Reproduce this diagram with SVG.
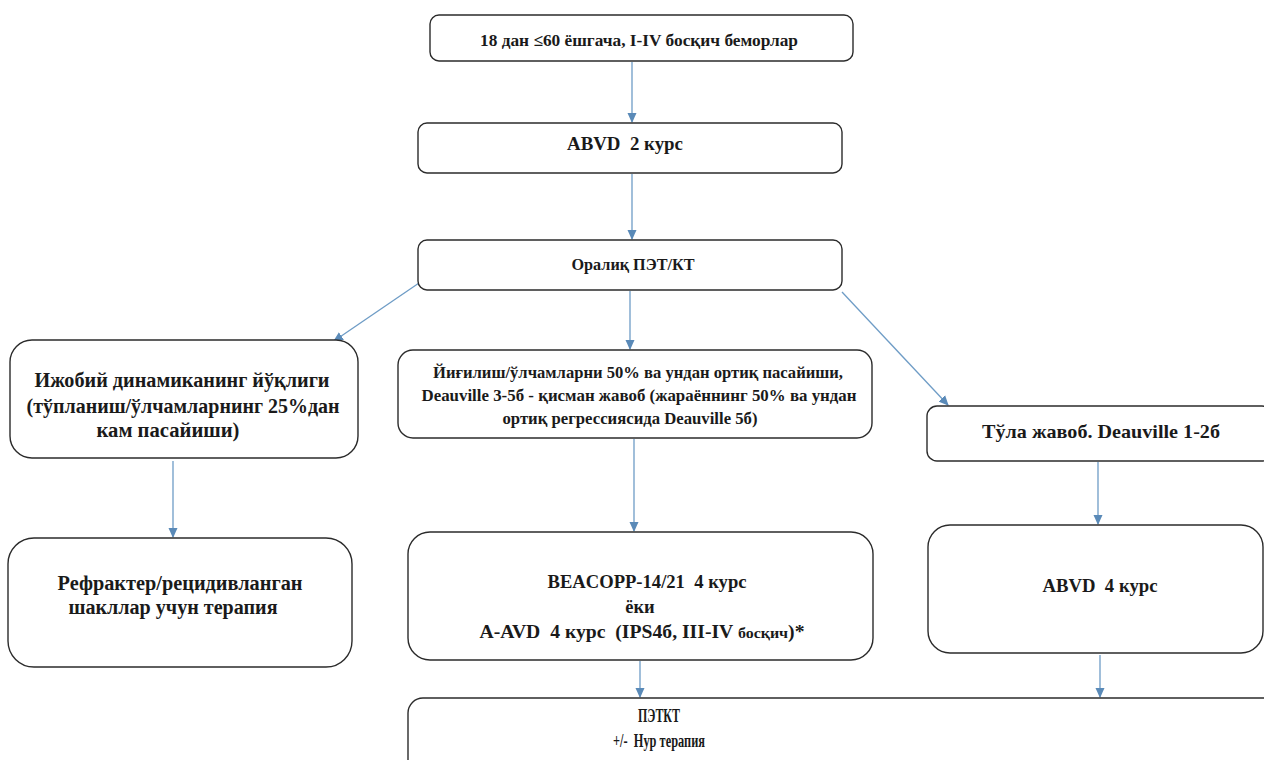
<svg xmlns="http://www.w3.org/2000/svg" width="1264" height="760" viewBox="0 0 1264 760">
<defs>
<marker id="ah" markerWidth="10" markerHeight="10" refX="9" refY="5" orient="auto" markerUnits="userSpaceOnUse">
<path d="M0,0.5 L10,5 L0,9.5 Z" fill="#5a8ab8"/>
</marker>
<style>
.box{fill:#fff;stroke:#2b2b2b;stroke-width:1.4}
.t{font-weight:bold;fill:#1a1a1a;text-anchor:middle}
.c{fill:none;stroke:#6e9cc6;stroke-width:1.3;marker-end:url(#ah)}
</style>
</defs>
<rect width="1264" height="760" fill="#fff"/>
<g id="connectors">
<line class="c" x1="632" y1="62" x2="632" y2="122"/>
<line class="c" x1="632" y1="174" x2="632" y2="239"/>
<line class="c" x1="419" y1="283" x2="334" y2="341"/>
<line class="c" x1="630" y1="291" x2="630" y2="349"/>
<line class="c" x1="842" y1="292" x2="948" y2="405"/>
<line class="c" x1="173" y1="461" x2="173" y2="537"/>
<line class="c" x1="634" y1="439" x2="634" y2="531"/>
<line class="c" x1="1098" y1="462" x2="1098" y2="524"/>
<line class="c" x1="640" y1="661" x2="640" y2="697"/>
<line class="c" x1="1100" y1="655" x2="1100" y2="697"/>
</g>
<g font-family="Liberation Serif, Times New Roman, serif">
<g id="n1">
<rect class="box" x="430" y="15" width="423" height="46" rx="9"/>
<text class="t" x="639" y="46" font-size="17" textLength="318" lengthAdjust="spacingAndGlyphs">18 дан ≤60 ёшгача, I-IV босқич беморлар</text>
</g>
<g id="n2">
<rect class="box" x="418" y="123" width="424" height="50" rx="9"/>
<text class="t" x="625" y="150" font-size="19" textLength="116" lengthAdjust="spacingAndGlyphs" xml:space="preserve">ABVD  2 курс</text>
</g>
<g id="n3">
<rect class="box" x="418" y="240" width="424" height="50" rx="9"/>
<text class="t" x="633" y="270" font-size="16" textLength="123" lengthAdjust="spacingAndGlyphs">Оралиқ ПЭТ/КТ</text>
</g>
<g id="n4">
<rect class="box" x="10" y="340" width="348" height="118" rx="22"/>
<text class="t" x="182" y="387" font-size="20" textLength="295" lengthAdjust="spacingAndGlyphs">Ижобий динамиканинг йўқлиги</text>
<text class="t" x="183" y="413" font-size="20" textLength="313" lengthAdjust="spacingAndGlyphs">(тўпланиш/ўлчамларнинг 25%дан</text>
<text class="t" x="168" y="437" font-size="20" textLength="143" lengthAdjust="spacingAndGlyphs">кам пасайиши)</text>
</g>
<g id="n5">
<rect class="box" x="398" y="350" width="474" height="88" rx="15"/>
<text class="t" x="638" y="378" font-size="16.5" textLength="410" lengthAdjust="spacingAndGlyphs">Йиғилиш/ўлчамларни 50% ва ундан ортиқ пасайиши,</text>
<text class="t" x="639" y="401" font-size="16.5" textLength="435" lengthAdjust="spacingAndGlyphs">Deauville 3-5б - қисман жавоб (жараённинг 50% ва ундан</text>
<text class="t" x="630" y="424" font-size="16.5" textLength="255" lengthAdjust="spacingAndGlyphs">ортиқ регрессиясида Deauville 5б)</text>
</g>
<g id="n6">
<rect class="box" x="927" y="406" width="345" height="55" rx="10"/>
<text class="t" x="1101" y="438" font-size="19.5" textLength="238" lengthAdjust="spacingAndGlyphs">Тўла жавоб. Deauville 1-2б</text>
</g>
<g id="n7">
<rect class="box" x="8" y="538" width="344" height="129" rx="26"/>
<text class="t" x="180" y="590" font-size="20" textLength="245" lengthAdjust="spacingAndGlyphs">Рефрактер/рецидивланган</text>
<text class="t" x="173" y="614" font-size="20" textLength="209" lengthAdjust="spacingAndGlyphs">шакллар учун терапия</text>
</g>
<g id="n8">
<rect class="box" x="408" y="532" width="465" height="128" rx="22"/>
<text class="t" x="647" y="588" font-size="18.5" textLength="199" lengthAdjust="spacingAndGlyphs" xml:space="preserve">BEACOPP-14/21  4 курс</text>
<text class="t" x="640" y="613" font-size="18.5">ёки</text>
<text class="t" x="642" y="638" font-size="18.5" textLength="325" lengthAdjust="spacingAndGlyphs" xml:space="preserve">A-AVD  4 курс  (IPS4б, III-IV <tspan font-size="15">босқич</tspan>)*</text>
</g>
<g id="n9">
<rect class="box" x="928" y="525" width="335" height="128" rx="22"/>
<text class="t" x="1100" y="592" font-size="18.5" textLength="115" lengthAdjust="spacingAndGlyphs" xml:space="preserve">ABVD  4 курс</text>
</g>
<g id="n10">
<rect class="box" x="408" y="698" width="870" height="80" rx="15"/>
<text class="t" x="659" y="722" font-size="18" textLength="42" lengthAdjust="spacingAndGlyphs">ПЭТКТ</text>
<text class="t" x="659" y="747" font-size="18" textLength="92" lengthAdjust="spacingAndGlyphs" xml:space="preserve">+/-  Нур терапия</text>
</g>
</g>
</svg>
